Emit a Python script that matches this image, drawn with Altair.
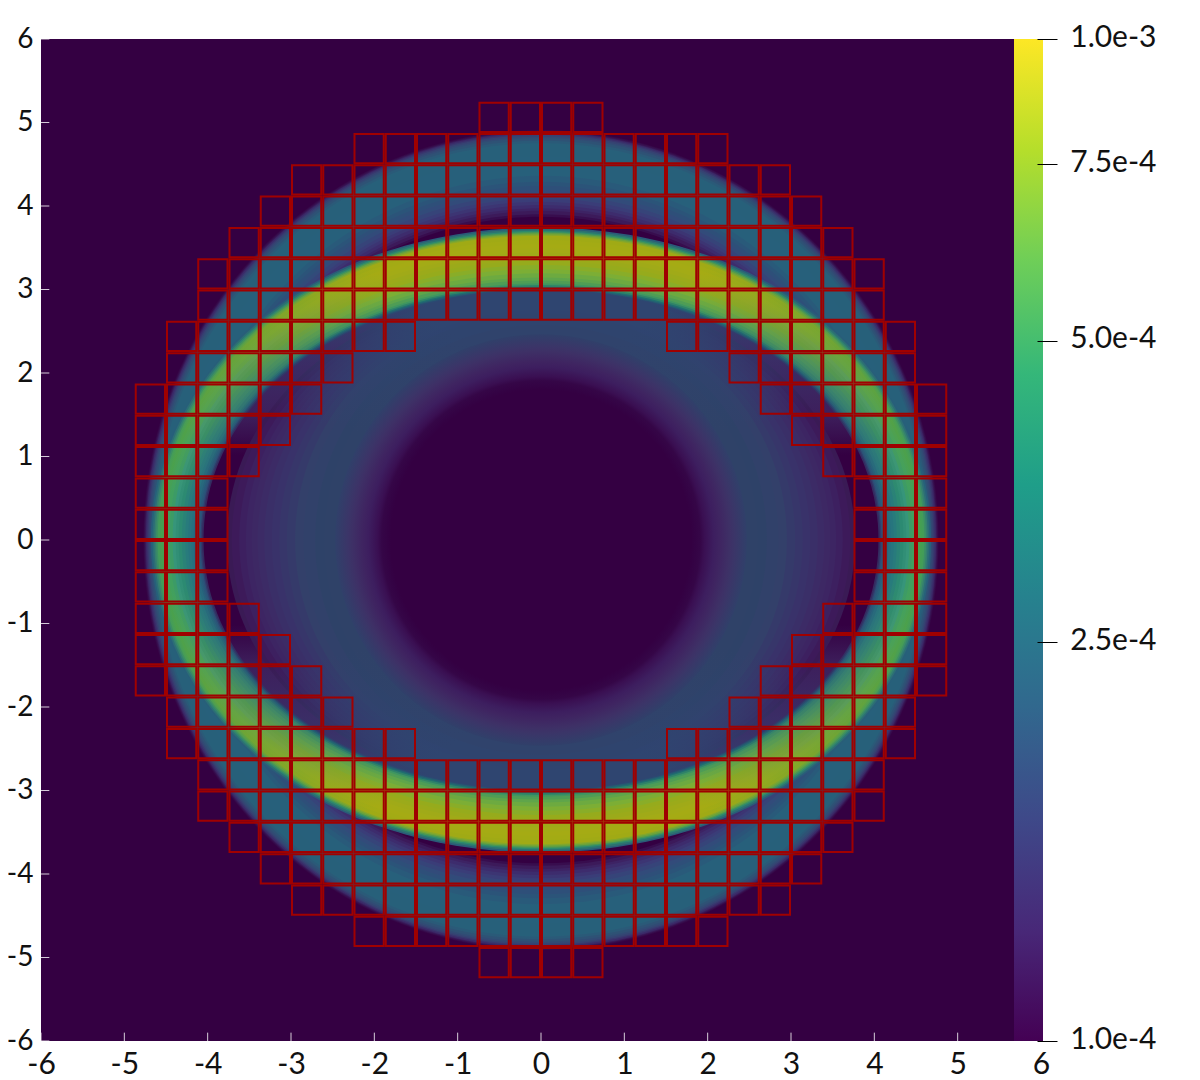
import altair as alt
import pandas as pd

# --- values ---
TICKS = list(range(-6, 7))
BAR_TICKS = [1e-4, 2.5e-4, 5e-4, 7.5e-4, 1e-3]
VIRIDIS = ["#440154", "#482878", "#3e4989", "#31688e", "#26828e", "#1f9e89",
           "#35b779", "#6ece58", "#b5de2b", "#fde725"]
BG = "#340042"

# mesh: half-width of each row and half-width of the central hole, in cells
CELL = 0.375
ROW_OUTER = [13, 13, 13, 13, 13, 12, 12, 11, 11, 10, 9, 8, 6, 2]
ROW_HOLE = [10, 10, 9, 8, 7, 6, 4, 0, 0, 0, 0, 0, 0, 0]

# contours, painted from outside in: semi-axis x, semi-axis y, colour at the side, colour at the top
BAND = [
    (4.77, 4.92, "#350848", "#350848"), (4.76, 4.91, "#371050", "#371050"),
    (4.75, 4.90, "#391c5c", "#391c5c"), (4.74, 4.89, "#3a2a68", "#3a2a68"),
    (4.725, 4.875, "#38376e", "#38376e"), (4.71, 4.86, "#354372", "#354372"),
    (4.695, 4.84, "#314b74", "#314b74"), (4.68, 4.82, "#2e5275", "#2e5275"),
    (4.66, 4.79, "#2a5a78", "#2a5a78"), (4.64, 4.76, "#27607a", "#27607a"),
    (4.50, 4.60, "#27607b", "#27607b"), (4.35, 4.45, "#27607b", "#27607b"),
    (4.31, 4.37, "#295a7a", "#295a7a"), (4.28, 4.30, "#2b5479", "#2b5479"),
    (4.25, 4.25, "#2e4f79", "#2e4f79"), (4.22, 4.20, "#324b7a", "#324b7a"),
    (4.19, 4.15, "#364479", "#364479"), (4.16, 4.10, "#3a3d78", "#3a3d78"),
    (4.14, 4.06, "#3c3573", "#3c3573"), (4.12, 4.02, "#3d2c6d", "#3d2c6d"),
    (4.10, 3.98, "#3d2364", "#3d2364"), (4.08, 3.95, "#3c1a5a", "#3c1a5a"),
    (4.06, 3.91, "#380d4e", "#380d4e"), (4.05, 3.88, BG, BG),
]
RING = [
    (4.68, 3.75, "#27607a", "#2a5a78"),
    (4.66, 3.73, "#2c6d76", "#2c7270"), (4.64, 3.71, "#347f6f", "#2d8a6c"),
    (4.62, 3.695, "#3b8e64", "#4c9752"), (4.60, 3.68, "#429c59", "#6ca33a"),
    (4.58, 3.665, "#449e54", "#87a728"), (4.56, 3.65, "#46a050", "#a0aa15"),
    (4.53, 3.60, "#44a057", "#a3ab14"), (4.50, 3.55, "#41a05e", "#a5ab14"),
    (4.46, 3.50, "#3c9b66", "#a3ab16"), (4.42, 3.45, "#36957a", "#a0aa18"),
    (4.385, 3.40, "#318f76", "#9baa1a"), (4.35, 3.35, "#2c8a72", "#96ab1c"),
    (4.31, 3.30, "#2a8277", "#89ad28"), (4.27, 3.25, "#287b7c", "#7cae35"),
    (4.235, 3.20, "#27757e", "#6daa40"), (4.20, 3.15, "#26707f", "#5fa54a"),
    (4.17, 3.115, "#26677e", "#4f9d55"), (4.14, 3.08, "#265f7c", "#3f9660"),
    (4.12, 3.06, "#29577a", "#2f8268"), (4.10, 3.04, "#2c4f78", "#1f6e70"),
    (4.085, 3.025, "#303c6c", "#255c71"), (4.07, 3.01, "#342a5f", "#2a4a72"),
]
# how far the ring colour has moved from side to top, by offset along the height
RING_MIX = [(0.0, 1.0), (0.05, 1.0), (0.12, 0.7), (0.2, 0.38), (0.325, 0.1), (0.42, 0.0)]
# the crescent between the ring and the inner ellipse, by offset along the height
LENS = (4.05, 3.00)
LENS_STOPS = [(0.0, "#2f4570"), (0.03, "#2f4570"), (0.12, "#3a3068"), (0.25, "#3d1f5c"),
              (0.33, BG), (0.67, BG), (0.75, "#3d1f5c"), (0.88, "#3a3068"),
              (0.97, "#2f4570"), (1.0, "#2f4570")]
INNER = [
    (3.77, 2.99, "#3a1a55", "#2f4570"),
    (3.71, 2.97, "#3d1a5a", "#2f4570"), (3.62, 2.95, "#3d2060", "#2f4570"),
    (3.54, 2.93, "#3d2563", "#2f4570"), (3.47, 2.91, "#3d2864", "#2f4570"),
    (3.40, 2.89, "#3c2b66", "#2f4570"), (3.32, 2.87, "#3a2f68", "#2f4570"),
    (3.23, 2.85, "#39326a", "#2f4570"), (3.14, 2.82, "#37366a", "#2f4570"),
    (3.05, 2.79, "#353a6a", "#2f4570"), (2.95, 2.76, "#33406a", "#2f4470"),
    (2.85, 2.72, "#31416a", "#2f446e"), (2.71, 2.65, "#2e4268", "#2f446e"),
    (2.60, 2.58, "#2f4268", "#30436c"),
]
# central disc: radius and colour along a radius
DISC_R = [0.0, 1.80, 1.84, 1.91, 1.96, 2.07, 2.14, 2.26, 2.32, 2.47]
DISC_C = [BG, BG, "#340244", "#350647", "#3a0f52", "#3d1e5f", "#3f2461",
          "#3e3066", "#3b3568", "#30406a"]

W, H = 1000, 1002
PX = W / 12
FONT = "Lato"

X = alt.Scale(domain=[-6, 6], nice=False, zero=False)
Y = alt.Scale(domain=[-6, 6], nice=False, zero=False)
NOAX = None
ORIGIN = pd.DataFrame({"x": [0.0], "y": [0.0]})


def ellipse_path(a, b, k=0.5523):
    r = b / a
    return (f"M-1,0C-1,{-k*r:.4f},{-k:.4f},{-r:.4f},0,{-r:.4f}"
            f"C{k:.4f},{-r:.4f},1,{-k*r:.4f},1,0"
            f"C1,{k*r:.4f},{k:.4f},{r:.4f},0,{r:.4f}"
            f"C{-k:.4f},{r:.4f},-1,{k*r:.4f},-1,0Z")


def blob(a, b, fill, kappa=0.5523):
    return alt.Chart(ORIGIN).mark_point(
        filled=True, shape=ellipse_path(a, b, kappa), size=(2 * a * PX) ** 2,
        fill=fill, opacity=1, strokeWidth=0,
    ).encode(x=alt.X("x:Q", scale=X, axis=NOAX), y=alt.Y("y:Q", scale=Y, axis=NOAX))


def linear(stops):
    return {"gradient": "linear", "x1": 0, "y1": 0, "x2": 0, "y2": 1,
            "stops": [{"offset": o, "color": c} for o, c in stops]}


def vertical(side, top, t0=0.08, t1=0.38):
    return linear([(0, top), (t0, top), (t1, side), (1 - t1, side), (1 - t0, top), (1, top)])


def blend(side, top, m):
    s = [int(side[i:i + 2], 16) for i in (1, 3, 5)]
    t = [int(top[i:i + 2], 16) for i in (1, 3, 5)]
    return "#" + "".join(f"{round(p + (q - p) * m):02x}" for p, q in zip(s, t))


def ring_fill(side, top):
    half = [(o, blend(side, top, m)) for o, m in RING_MIX]
    return linear(half + [(1 - o, c) for o, c in reversed(half)])


def axis_common(size):
    return dict(
        values=TICKS, tickSize=0, domain=False, grid=False, title=None,
        labelFont=FONT, labelFontSize=size, labelColor="#111111",
        labelExpr="toString(datum.value)", labelOverlap=False, labelFlush=False,
    )


bg = alt.Chart(pd.DataFrame({"x": [-6], "x2": [6], "y": [-6], "y2": [6]})).mark_rect(
    color=BG, opacity=1
).encode(
    x=alt.X("x:Q", scale=X, axis=alt.Axis(orient="bottom", labelPadding=8, **axis_common(30))),
    x2="x2:Q",
    y=alt.Y("y:Q", scale=Y, axis=alt.Axis(orient="left", labelPadding=8, **axis_common(28))),
    y2="y2:Q",
)

layers = [bg]
for a, b, side, top in BAND:
    layers.append(blob(a, b, vertical(side, top)))
for a, b, side, top in RING:
    layers.append(blob(a, b, ring_fill(side, top), 0.57))
layers.append(blob(LENS[0], LENS[1], linear(LENS_STOPS), 0.57))
for a, b, side, top in INNER:
    layers.append(blob(a, b, vertical(side, top, 0.04, 0.25), 0.57))
layers.append(blob(DISC_R[-1], DISC_R[-1], {
    "gradient": "radial", "x1": 0.5, "y1": 0.5, "r1": 0, "x2": 0.5, "y2": 0.5, "r2": 0.5,
    "stops": [{"offset": r / DISC_R[-1], "color": c} for r, c in zip(DISC_R, DISC_C)],
}))

# mesh cells
rows = []
INSET = 1.0 / PX
for j, (n, h) in enumerate(zip(ROW_OUTER, ROW_HOLE)):
    for sign in (1, -1):
        y0, y1 = sorted((sign * j * CELL, sign * (j + 1) * CELL))
        for k in range(-n, n):
            if k >= h or k + 1 <= -h:
                rows.append({"x": k * CELL + INSET, "x2": (k + 1) * CELL - INSET,
                             "y": y0 + INSET, "y2": y1 - INSET})
cells = alt.Chart(pd.DataFrame(rows)).mark_rect(
    fillOpacity=0, stroke="#a00000", strokeWidth=2, opacity=1
).encode(
    x=alt.X("x:Q", scale=X, axis=NOAX), x2="x2:Q",
    y=alt.Y("y:Q", scale=Y, axis=NOAX), y2="y2:Q",
)
layers.append(cells)

# small white ticks inside the frame
tick_len = 0.1
left = alt.Chart(pd.DataFrame({"t": TICKS, "a": -6.0, "b": -6.0 + tick_len})).mark_rule(
    color="white", strokeWidth=1, opacity=0.8
).encode(x=alt.X("a:Q", scale=X, axis=NOAX), x2="b:Q", y=alt.Y("t:Q", scale=Y, axis=NOAX))
bottom = alt.Chart(pd.DataFrame({"t": TICKS, "a": -6.0, "b": -6.0 + tick_len})).mark_rule(
    color="white", strokeWidth=1, opacity=0.8
).encode(x=alt.X("t:Q", scale=X, axis=NOAX), y=alt.Y("a:Q", scale=Y, axis=NOAX), y2="b:Q")
layers += [left, bottom]

# colour bar
n = len(VIRIDIS) - 1
bar_grad = {
    "gradient": "linear", "x1": 0, "y1": 1, "x2": 0, "y2": 0,
    "stops": [{"offset": i / n, "color": c} for i, c in enumerate(VIRIDIS)],
}
bar = alt.Chart(pd.DataFrame({"lo": [1e-4], "hi": [1e-3]})).mark_rect(
    fill=bar_grad, opacity=1
).encode(
    x=alt.value(973), x2=alt.value(1002),
    y=alt.Y("lo:Q", scale=alt.Scale(type="log", domain=[1e-4, 1e-3], nice=False),
            axis=alt.Axis(orient="right", values=BAR_TICKS, format=".1e", title=None,
                          domain=False, grid=False, tickSize=20, tickColor="black",
                          tickWidth=1, offset=-4, labelPadding=99, labelAlign="right",
                          labelFont=FONT, labelFontSize=30, labelColor="#111111",
                          labelOffset=-2, labelOverlap=False, labelFlush=False, zindex=1)),
    y2="hi:Q",
)
layers.append(bar)

chart = alt.layer(*layers).resolve_scale(x="independent", y="independent").properties(
    width=W, height=H,
    autosize=alt.AutoSizeParams(type="none"),
    padding={"left": 33, "top": 31, "right": 150, "bottom": 38},
).configure_view(stroke=None)

chart.save("out.html", embed_options={"renderer": "svg", "actions": False})
